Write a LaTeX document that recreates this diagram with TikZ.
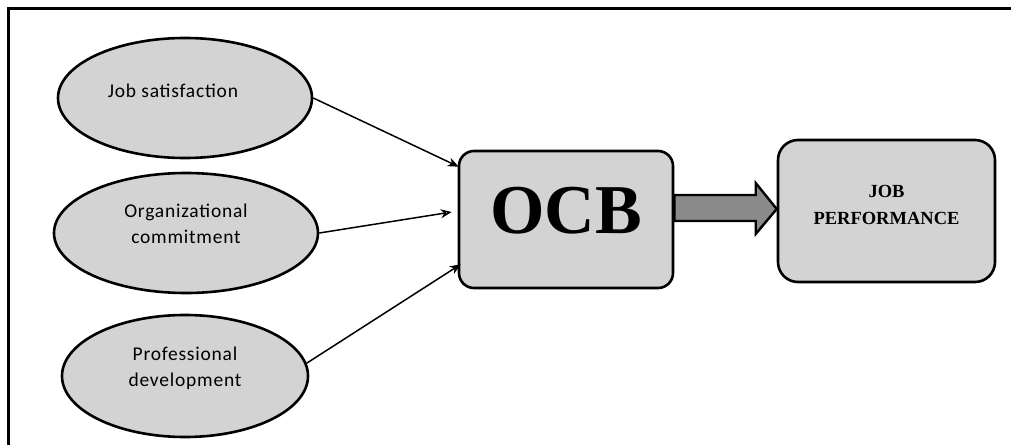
\documentclass[tikz,border=0pt]{standalone}
\usepackage{fontspec}
\setmainfont{Liberation Serif}
\newfontfamily\ellfont[LetterSpace=4]{Carlito}
\newfontfamily\ocbfont{Liberation Serif}
\usetikzlibrary{shapes.geometric,arrows.meta,calc}

\definecolor{shapegray}{RGB}{211,211,211}
\definecolor{arrowgray}{RGB}{138,138,138}

\tikzset{
  factor/.style={ellipse, draw=black, line width=2.6pt, fill=shapegray,
    inner sep=0pt, align=center,
    font=\ellfont\fontsize{19.5}{27}\selectfont},
  roundbox/.style={rectangle, rounded corners=#1, draw=black, line width=2.6pt,
    fill=shapegray, inner sep=0pt, align=center},
  link/.style={line width=1.5pt, -{Stealth[length=11pt,width=9pt]}},
  openlink/.style={line width=1.5pt, -{Stealth[open,length=11pt,width=9pt]}},
  bigarrow/.style={draw=black, line width=2.4pt, fill=arrowgray, line join=miter}
}

% shift text up without changing the box that the node is fitted around
\newcommand{\lift}[2]{\raisebox{#1}[\height][\depth]{#2}}

\begin{document}
\begin{tikzpicture}[x=1pt,y=-1pt]
  \useasboundingbox (0,0) rectangle (1011,444);

  % outer frame (only its top and left sides fall inside the page)
  \begin{scope}
    \clip (0,0) rectangle (1011,444);
    \draw[line width=3pt] (8,9) rectangle (1030,470);
  \end{scope}

  % influencing factors
  \node[factor, minimum width=254pt, minimum height=120pt] (js) at (185,98)
    {\lift{7pt}{Job satisfaction}\hspace*{24pt}};
  \node[factor, minimum width=264pt, minimum height=120pt] (oc) at (186,233)
    {\lift{8pt}{\begin{tabular}{@{}c@{}}Organizational\\[-1pt]commitment\end{tabular}}};
  \node[factor, minimum width=246pt, minimum height=122pt] (pd) at (185,376)
    {\lift{8pt}{\begin{tabular}{@{}c@{}}Professional\\[-1pt]development\end{tabular}}};

  % OCB and outcome boxes
  \node[roundbox=15pt, minimum width=214pt, minimum height=137pt] (ocb) at (566,219.5)
    {\lift{9pt}{\ocbfont\bfseries\fontsize{70}{70}\selectfont OCB}};
  \node[roundbox=20pt, minimum width=217pt, minimum height=142pt,
        font=\bfseries\fontsize{18.5}{28}\selectfont] (jp) at (886.5,211)
    {\lift{6pt}{\begin{tabular}{@{}c@{}}JOB\\[-1pt]PERFORMANCE\end{tabular}}};

  % arrow ends on the OCB box
  \coordinate (c1) at ($(ocb.north west)+(1,17)$);
  \coordinate (c2) at ($(ocb.west)+(-6,-7.5)$);
  \coordinate (c3) at ($(ocb.south west)+(3,-25)$);

  \draw[link] (js.east) -- (c1);
  \draw[openlink] (oc.east) -- (c2);
  \draw[link] (pd.6) -- (c3);

  % block arrow from OCB to job performance
  \coordinate (tip) at ($(jp.west)+(0,-2)$);
  \coordinate (h1) at ($(tip)+(-21,-26)$);
  \coordinate (s1) at ($(tip)+(-21,-14)$);
  \coordinate (s2) at ($(tip)+(-21,12)$);
  \coordinate (h2) at ($(tip)+(-21,25)$);
  \draw[bigarrow] (s1 -| ocb.east) -- (s1) -- (h1) -- (tip) -- (h2) -- (s2)
    -- (s2 -| ocb.east) -- cycle;
\end{tikzpicture}
\end{document}
